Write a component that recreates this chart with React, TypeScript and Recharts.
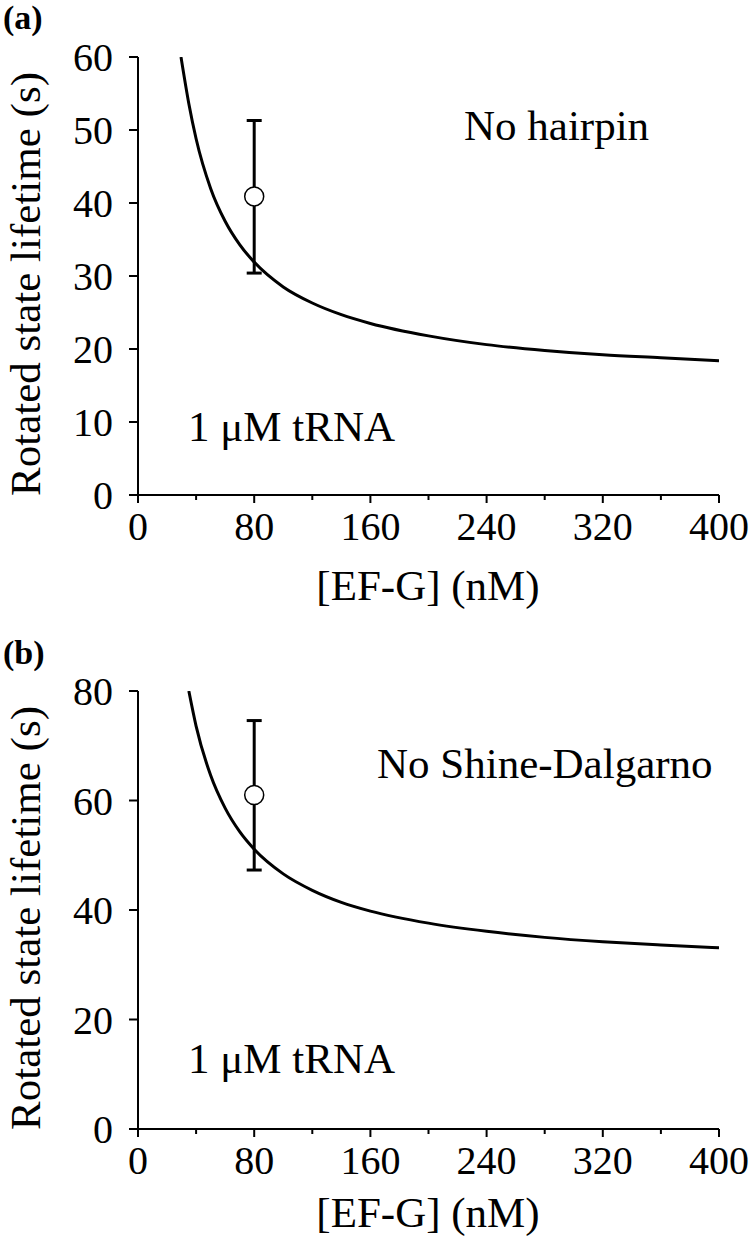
import { ComposedChart, Line, Scatter, XAxis, YAxis, ErrorBar } from 'recharts';

const FONT = '"Liberation Serif", "Times New Roman", serif';

// shared x axis: [EF-G] in nM
const xTicks = [0, 40, 80, 120, 160, 200, 240, 280, 320, 360, 400];

// panel (a): no hairpin
const fitXA = [29.6, 35, 40, 50, 60, 70, 80, 100, 120, 140, 160, 200, 240, 280, 320, 360, 400];
const fitYA = [60, 53.6, 48.8, 42.0, 37.5, 34.3, 31.9, 28.5, 26.3, 24.7, 23.5, 21.8, 20.6, 19.8, 19.2, 18.8, 18.4];
const pointXA = [80];
const pointYA = [40.9];
const errLowA = [10.5];
const errHighA = [10.4];
const yTicksA = [0, 10, 20, 30, 40, 50, 60];

// panel (b): no Shine-Dalgarno
const fitXB = [35, 40, 50, 60, 70, 80, 100, 120, 140, 160, 200, 240, 280, 320, 360, 400];
const fitYB = [80, 73.6, 64.6, 58.6, 54.3, 51.1, 46.6, 43.6, 41.4, 39.8, 37.6, 36.1, 35.0, 34.2, 33.6, 33.1];
const pointXB = [80];
const pointYB = [61.0];
const errLowB = [13.7];
const errHighB = [13.6];
const yTicksB = [0, 20, 40, 60, 80];

function XTick(props: any) {
  const { x, y, payload } = props;
  const major = payload.value % 80 === 0;
  // y is axis line + tickSize (8)
  const base = y - 8;
  return (
    <g>
      <line x1={x} x2={x} y1={base} y2={base + (major ? 8 : 5)} stroke="#000" strokeWidth={2} />
      {major && (
        <text x={x} y={base + 45} textAnchor="middle" fontSize={40} fontFamily={FONT} fill="#000">
          {payload.value}
        </text>
      )}
    </g>
  );
}

function Dot(props: any) {
  return <circle cx={props.cx} cy={props.cy} r={9.5} fill="#fff" stroke="#000" strokeWidth={1.5} />;
}

interface PanelProps {
  tag: string;
  tagY: number;
  height: number;
  top: number;
  bottom: number;
  yMax: number;
  yTicks: number[];
  fitX: number[];
  fitY: number[];
  ptX: number[];
  ptY: number[];
  errLow: number[];
  errHigh: number[];
  note: string;
  noteX: number;
  noteY: number;
  tRNAY: number;
  yTitleY: number;
  xTitleY: number;
}

function Panel(p: PanelProps) {
  const fit = p.fitX.map((x, i) => ({ x, y: p.fitY[i] }));
  const pts = p.ptX.map((x, i) => ({ x, y: p.ptY[i], err: [p.errLow[i], p.errHigh[i]] }));
  const textStyle = { fontFamily: FONT, fill: '#000' };

  return (
    <ComposedChart
      width={750}
      height={p.height}
      margin={{ top: p.top, right: 31, bottom: p.bottom, left: 0 }}
    >
      <XAxis
        type="number"
        dataKey="x"
        domain={[0, 400]}
        ticks={xTicks}
        allowDataOverflow
        height={60}
        tickSize={8}
        tickMargin={0}
        tickLine={false}
        axisLine={{ stroke: '#000', strokeWidth: 2 }}
        tick={XTick}
        interval={0}
      />
      <YAxis
        type="number"
        dataKey="y"
        domain={[0, p.yMax]}
        ticks={p.yTicks}
        allowDataOverflow
        width={138}
        tickSize={9}
        tickMargin={16}
        interval={0}
        axisLine={{ stroke: '#000', strokeWidth: 2 }}
        tickLine={{ stroke: '#000', strokeWidth: 2 }}
        tick={{ fontSize: 40, fontFamily: FONT, fill: '#000' }}
      />
      <Line
        data={fit}
        dataKey="y"
        type="monotone"
        stroke="#000"
        strokeWidth={3}
        dot={false}
        activeDot={false}
        isAnimationActive={false}
      />
      <Scatter data={pts} dataKey="y" shape={Dot} isAnimationActive={false}>
        <ErrorBar dataKey="err" direction="y" width={7.5} strokeWidth={3} stroke="#000" isAnimationActive={false} />
      </Scatter>

      <text x={3} y={p.tagY} fontSize={34} fontWeight="bold" {...textStyle}>{p.tag}</text>
      <text
        transform={`translate(40, ${p.yTitleY}) rotate(-90)`}
        textAnchor="middle"
        fontSize={43}
        {...textStyle}
      >
        Rotated state lifetime (s)
      </text>
      <text x={428} y={p.xTitleY} textAnchor="middle" fontSize={43} {...textStyle}>[EF-G] (nM)</text>
      <text x={p.noteX} y={p.noteY} fontSize={43} {...textStyle}>{p.note}</text>
      <text x={188} y={p.tRNAY} fontSize={43} {...textStyle}>1 μM tRNA</text>
    </ComposedChart>
  );
}

export default function App() {
  return (
    <div style={{ position: 'absolute', left: 0, top: 0, width: 750, height: 1241, background: '#fff' }}>
      <Panel
        tag="(a)"
        tagY={29}
        height={620}
        top={57}
        bottom={65}
        yMax={60}
        yTicks={yTicksA}
        fitX={fitXA}
        fitY={fitYA}
        ptX={pointXA}
        ptY={pointYA}
        errLow={errLowA}
        errHigh={errHighA}
        note="No hairpin"
        noteX={464}
        noteY={140}
        tRNAY={441}
        yTitleY={284}
        xTitleY={600}
      />
      <Panel
        tag="(b)"
        tagY={44}
        height={621}
        top={71}
        bottom={52}
        yMax={80}
        yTicks={yTicksB}
        fitX={fitXB}
        fitY={fitYB}
        ptX={pointXB}
        ptY={pointYB}
        errLow={errLowB}
        errHigh={errHighB}
        note="No Shine-Dalgarno"
        noteX={377}
        noteY={158}
        tRNAY={453}
        yTitleY={298}
        xTitleY={607}
      />
    </div>
  );
}
